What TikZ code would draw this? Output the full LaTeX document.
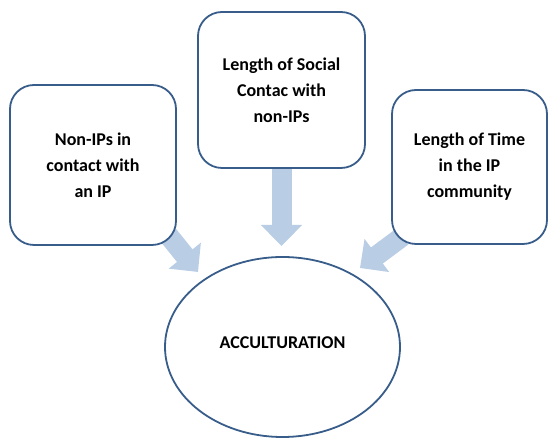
\documentclass[tikz,border=0pt]{standalone}
\usepackage{fontspec}
\setmainfont{Carlito}
\usetikzlibrary{arrows.meta,shapes.geometric}
\pgfdeclarelayer{background}
\pgfsetlayers{background,main}

\begin{document}
\begin{tikzpicture}[x=1pt,y=1pt,
  box/.style={draw=ac_edge,line width=1.8pt,fill=white,rounded corners=24pt,
    inner sep=0pt,align=center,font=\fontsize{18}{26}\selectfont\bfseries},
  flow/.style={ac_arrow,line width=20pt,-{Triangle[width=40pt,length=21pt]}}]
% ------------------------------------------------ colors
\definecolor{ac_edge}{RGB}{56,93,138}     %#385D8A
\definecolor{ac_arrow}{RGB}{185,205,229}  %#B9CDE5

\useasboundingbox (0,0) rectangle (548,438);

% the three boxes
\node[box,minimum width=166pt,minimum height=160pt] (nonip) at (93,273)
  {Non-IPs in\\contact with\\an IP};
\node[box,minimum width=167pt,minimum height=156pt] (social) at (281.5,348)
  {Length of Social\\Contac with\\non-IPs};
\node[box,minimum width=155pt,minimum height=154pt] (time) at (469.5,271)
  {Length of Time\\in the IP\\community};

% the ellipse
\node[ellipse,draw=ac_edge,line width=1.8pt,inner sep=0pt,minimum width=235pt,
  minimum height=180pt,font=\fontsize{18}{26}\selectfont\bfseries] (accult) at (282.5,91)
  {\raisebox{8pt}{ACCULTURATION}};

\coordinate (tipL) at (198,166);
\coordinate (tipM) at (281.5,192);
\coordinate (tipR) at (360,170);

% arrows under the boxes
\begin{pgfonlayer}{background}
\draw[flow,shorten <=-14pt] (nonip.south east) -- (tipL);
\draw[flow] (social.south) -- (tipM);
\draw[flow,shorten <=-14pt] (time.south west) -- (tipR);
\end{pgfonlayer}

\end{tikzpicture}
\end{document}
